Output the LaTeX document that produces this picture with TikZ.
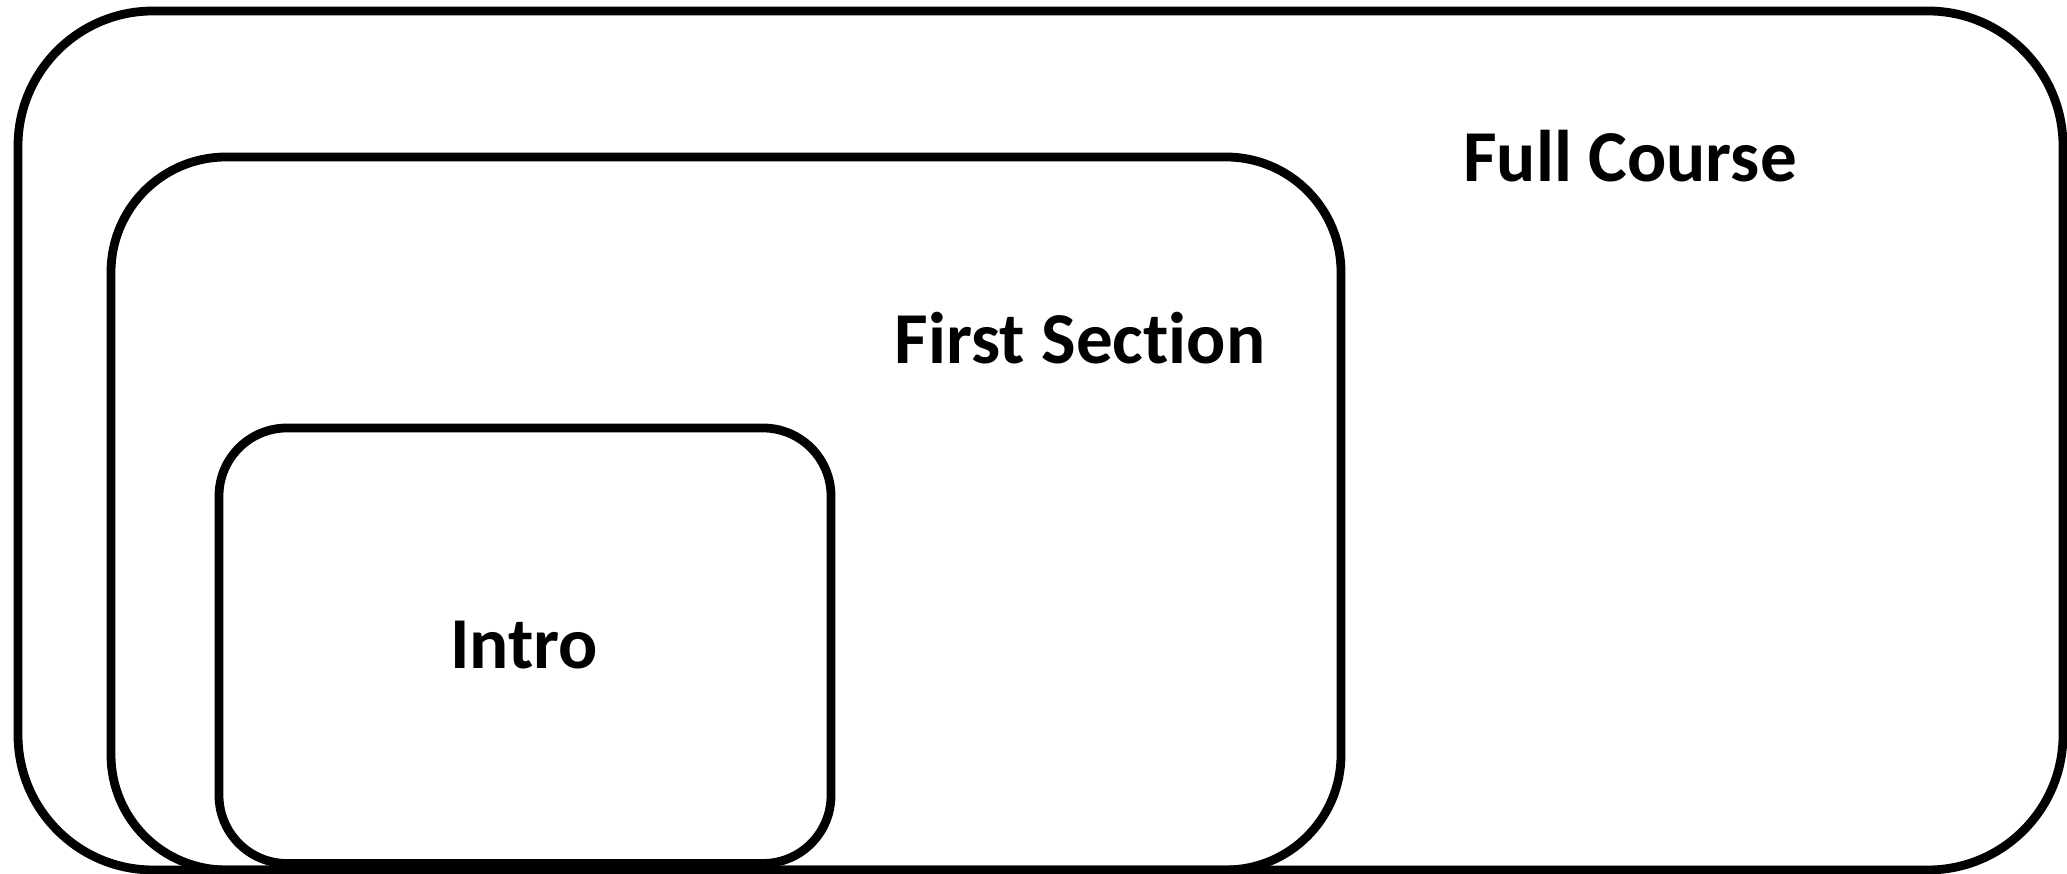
\documentclass[tikz,border=0pt]{standalone}
\usepackage{fontspec}
\setmainfont[Ligatures=NoCommon]{Carlito}
\begin{document}
\begin{tikzpicture}[x=0.01cm,y=0.01cm,
  box/.style={draw=black, line width=2.5pt, fill=none, inner sep=0pt, outer sep=0pt},
  lbl/.style={font=\fontsize{20.8}{25}\selectfont\bfseries, anchor=base, inner sep=0pt}]
\useasboundingbox (0,0) rectangle (2067,874);
\draw[box, rounded corners=1.35cm] (18,4) rectangle (2063,863);
\draw[box, rounded corners=1.15cm] (111,4) rectangle (1341,717);
\draw[box, rounded corners=0.68cm] (219,10.5) rectangle (831,446);
\node[lbl] (full) at (1630,692) {Full Course};
\node[lbl] (first) at (1080,510) {First Section};
\node[lbl] (intro) at (524,205) {Intro};
\end{tikzpicture}
\end{document}
